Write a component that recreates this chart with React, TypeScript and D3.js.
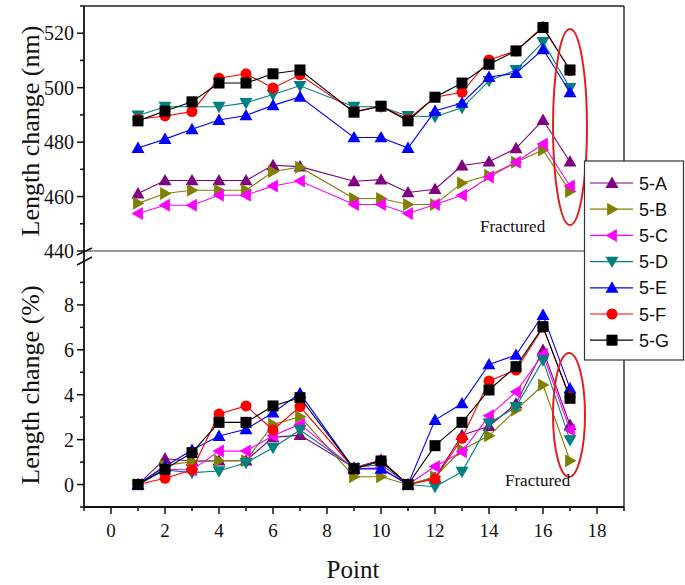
import React from "react";
import * as d3 from "d3";

const points = [1, 2, 3, 4, 5, 6, 7, 9, 10, 11, 12, 13, 14, 15, 16, 17];
const seriesNames = ["5-A", "5-B", "5-C", "5-D", "5-E", "5-F", "5-G"];
const seriesColors = ["#800080", "#808000", "#ff00ff", "#008080", "#0000ff", "#ff0000", "#000000"];
const seriesShapes = ["up", "right", "left", "down", "up", "circle", "square"];

const topA = [461.1, 465.9, 465.9, 465.9, 465.9, 471.5, 471, 465.6, 466.2, 461.5, 462.7, 471.4, 472.8, 477.7, 488.1, 472.8];
const topB = [457.5, 461.1, 462.3, 462.3, 462.3, 469.2, 470.8, 459.3, 459.3, 457.1, 457.1, 465, 467.8, 472.6, 477.1, 461.9];
const topC = [453.8, 456.8, 456.8, 460.5, 460.5, 463.9, 465.7, 457.1, 457.1, 453.8, 457.1, 460.5, 467.2, 472.6, 479.3, 463.9];
const topD = [489.8, 493, 493, 493, 494.4, 497.5, 500.7, 493, 493, 489.6, 489.3, 492.6, 502.5, 506.5, 516.8, 499.9];
const topE = [477.8, 481.1, 484.7, 488.1, 489.8, 493.5, 496.6, 481.7, 481.7, 477.8, 491.4, 494.4, 503.9, 505.3, 514.1, 498.3];
const topF = [488.4, 489.6, 491.2, 503.5, 505.1, 499.9, 504.7, 491.2, 493.2, 488.4, 496.5, 498.3, 510.2, 513.5, 522.4, 506.3];
const topG = [487.8, 491.4, 494.8, 501.7, 501.7, 505.1, 506.5, 491, 493.2, 487.8, 496.5, 501.7, 508.6, 513.5, 522.1, 506.5];

const botA = [0, 1.15, 1.05, 1.06, 1.06, 2.1, 2.2, 0.75, 1.1, 0, 0.3, 2.2, 2.6, 3.6, 5.99, 2.65];
const botB = [0, 0.85, 1.02, 1.06, 1.06, 2.68, 3.02, 0.35, 0.35, 0, 0.35, 1.55, 2.17, 3.32, 4.43, 1.06];
const botC = [0, 0.68, 0.65, 1.49, 1.49, 2.17, 2.69, 0.7, 0.75, 0, 0.8, 1.46, 3.06, 4.13, 5.8, 2.43];
const botD = [0, 0.65, 0.53, 0.6, 0.97, 1.64, 2.43, 0.75, 0.9, 0, -0.1, 0.57, 2.72, 3.46, 5.54, 1.98];
const botE = [0, 0.8, 1.54, 2.16, 2.46, 3.2, 4.06, 0.7, 0.7, 0, 2.87, 3.61, 5.35, 5.77, 7.55, 4.28];
const botF = [0, 0.28, 0.65, 3.14, 3.5, 2.43, 3.47, 0.7, 1.05, 0, 0.25, 2.06, 4.61, 5.1, 7.0, 3.9];
const botG = [0, 0.68, 1.42, 2.77, 2.77, 3.5, 3.87, 0.7, 1.05, 0, 1.73, 2.77, 4.21, 5.25, 7.03, 3.84];

const topSeries = [topA, topB, topC, topD, topE, topF, topG];
const botSeries = [botA, botB, botC, botD, botE, botF, botG];

const xTicks = [0, 2, 4, 6, 8, 10, 12, 14, 16, 18];
const topTicks = [440, 460, 480, 500, 520];
const botTicks = [0, 2, 4, 6, 8];

const SERIF = "'Liberation Serif', 'Times New Roman', serif";
const SANS = "'Liberation Sans', Arial, sans-serif";

function Marker({ shape, x, y, color, s = 6.5 }: { shape: string; x: number; y: number; color: string; s?: number }) {
  if (shape === "circle") return <circle cx={x} cy={y} r={5.5} fill={color} />;
  if (shape === "square") return <rect x={x - 5.5} y={y - 5.5} width={11} height={11} fill={color} />;
  let pts: number[][] = [];
  if (shape === "up") pts = [[x, y - s], [x - s, y + s * 0.75], [x + s, y + s * 0.75]];
  if (shape === "down") pts = [[x, y + s], [x - s, y - s * 0.75], [x + s, y - s * 0.75]];
  if (shape === "right") pts = [[x + s, y], [x - s * 0.75, y - s], [x - s * 0.75, y + s]];
  if (shape === "left") pts = [[x - s, y], [x + s * 0.75, y - s], [x + s * 0.75, y + s]];
  return <polygon points={pts.map((p) => p.join(",")).join(" ")} fill={color} />;
}

export default function App() {
  const x = d3.scaleLinear().domain([-1, 19]).range([84, 624]);
  const yTop = d3.scaleLinear().domain([440, 530]).range([251, 6]);
  const yBot = d3.scaleLinear().domain([-1, 10.4]).range([507, 251]);

  const left = 84, right = 624, top = 6, mid = 251, bottom = 507;

  const renderSeries = (data: number[][], y: d3.ScaleLinear<number, number>) =>
    data.map((vals, si) => {
      const line = d3
        .line<number>()
        .x((_, i) => x(points[i]))
        .y((v) => y(v));
      return (
        <g key={si}>
          <path d={line(vals) || ""} fill="none" stroke={seriesColors[si]} strokeWidth={1.1} />
          {vals.map((v, i) => (
            <Marker key={i} shape={seriesShapes[si]} x={x(points[i])} y={y(v)} color={seriesColors[si]} />
          ))}
        </g>
      );
    });

  const xMinor = d3.range(-1, 20, 1).filter((v) => v % 2 !== 0);
  const topMinor = [450, 470, 490, 510, 530];
  const botMinor = [-1, 1, 3, 5, 7, 9];

  return (
    <svg width={685} height={585} style={{ position: "absolute", left: 0, top: 0, background: "#fff" }}>
      <rect x={0} y={0} width={685} height={585} fill="#fff" />
      {/* frame */}
      <line x1={left} x2={right} y1={top} y2={top} stroke="#222" strokeWidth={1.5} />
      <line x1={right} x2={right} y1={top} y2={bottom} stroke="#333" strokeWidth={1.5} />
      <line x1={left} x2={right} y1={mid} y2={mid} stroke="#777" strokeWidth={1.5} />
      <line x1={left} x2={left} y1={top} y2={bottom} stroke="#111" strokeWidth={1.8} />
      <line x1={left} x2={right} y1={bottom} y2={bottom} stroke="#111" strokeWidth={1.8} />

      {/* x ticks */}
      {xTicks.map((t) => (
        <g key={"xt" + t}>
          <line x1={x(t)} x2={x(t)} y1={bottom} y2={bottom + 7} stroke="#111" strokeWidth={1.5} />
          <text x={x(t)} y={537} textAnchor="middle" fontFamily={SERIF} fontSize={19} fill="#111">
            {t}
          </text>
        </g>
      ))}
      {xMinor.map((t) => (
        <line key={"xm" + t} x1={x(t)} x2={x(t)} y1={bottom} y2={bottom + 4} stroke="#111" strokeWidth={1.5} />
      ))}

      {/* top y ticks */}
      {topTicks.map((t) => (
        <g key={"tt" + t}>
          <line x1={left - 7} x2={left} y1={yTop(t)} y2={yTop(t)} stroke="#111" strokeWidth={1.5} />
          <text x={left - 10} y={yTop(t) + 7} textAnchor="end" fontFamily={SERIF} fontSize={20} fill="#111">
            {t}
          </text>
        </g>
      ))}
      {topMinor.map((t) => (
        <line key={"tm" + t} x1={left - 4} x2={left} y1={yTop(t)} y2={yTop(t)} stroke="#111" strokeWidth={1.5} />
      ))}

      {/* bottom y ticks */}
      {botTicks.map((t) => (
        <g key={"bt" + t}>
          <line x1={left - 7} x2={left} y1={yBot(t)} y2={yBot(t)} stroke="#111" strokeWidth={1.5} />
          <text x={left - 10} y={yBot(t) + 7} textAnchor="end" fontFamily={SERIF} fontSize={20} fill="#111">
            {t}
          </text>
        </g>
      ))}
      {botMinor.map((t) => (
        <line key={"bm" + t} x1={left - 4} x2={left} y1={yBot(t)} y2={yBot(t)} stroke="#111" strokeWidth={1.5} />
      ))}

      {/* break marks */}
      <line x1={77} x2={92} y1={255} y2={248} stroke="#111" strokeWidth={1.5} />
      <line x1={77} x2={92} y1={265} y2={257} stroke="#111" strokeWidth={1.5} />

      {/* series */}
      {renderSeries(topSeries, yTop)}
      {renderSeries(botSeries, yBot)}

      {/* ellipses */}
      <ellipse cx={570} cy={127} rx={17} ry={98} fill="none" stroke="#e02020" strokeWidth={2} />
      <ellipse cx={569} cy={415} rx={16} ry={62} fill="none" stroke="#e02020" strokeWidth={2} />

      {/* fractured labels */}
      <text x={480} y={232} fontFamily={SERIF} fontSize={17} fill="#111">Fractured</text>
      <text x={505} y={486} fontFamily={SERIF} fontSize={17} fill="#111">Fractured</text>

      {/* legend */}
      <rect x={584.5} y={161} width={99} height={199} fill="#fff" stroke="#333" strokeWidth={1.2} />
      {seriesNames.map((n, i) => {
        const ly = 183 + i * 26.2;
        return (
          <g key={n}>
            <line x1={590} x2={633} y1={ly} y2={ly} stroke={seriesColors[i]} strokeWidth={1.2} />
            <Marker shape={seriesShapes[i]} x={612} y={ly} color={seriesColors[i]} />
            <text x={639} y={ly + 6.5} fontFamily={SANS} fontSize={18} fill="#111">
              {n}
            </text>
          </g>
        );
      })}

      {/* axis titles */}
      <text x={353} y={578} textAnchor="middle" fontFamily={SERIF} fontSize={25} fill="#111">Point</text>
      <text transform="translate(39,131) rotate(-90)" textAnchor="middle" fontFamily={SERIF} fontSize={26} fill="#111">
        Length change (nm)
      </text>
      <text transform="translate(39,385) rotate(-90)" textAnchor="middle" fontFamily={SERIF} fontSize={26} fill="#111">
        Length change (%)
      </text>
    </svg>
  );
}
